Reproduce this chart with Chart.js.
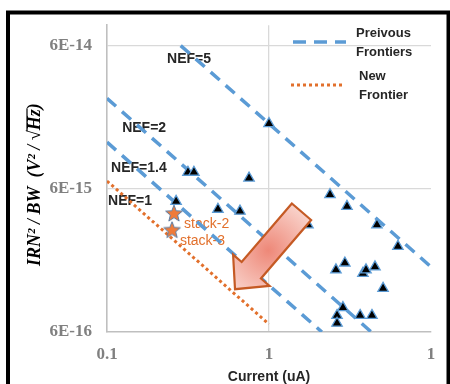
<!DOCTYPE html>
<html lang="en">
<head>
<meta charset="UTF-8">
<title>IRN vs Current</title>
<script src="https://cdn.jsdelivr.net/npm/chart.js"></script>
<style>
  body { margin: 0; background: #ffffff; }
  #wrap { width: 450px; height: 384px; }
</style>
</head>
<body>
<div id="wrap"><canvas id="chart" width="450" height="384"></canvas></div>
<script>
// measured designs (current in uA, IRN^2/BW)
const currents = [1, 0.316, 0.344, 0.753, 0.267, 0.484, 0.662, 1.74, 2.38, 3.03, 4.64, 6.25,
                  2.59, 2.94, 3.80, 3.97, 4.51, 5.06, 2.86, 2.63, 2.63, 3.65, 4.32];
const irnValues = [1.71e-14, 7.83e-15, 7.83e-15, 7.13e-15, 4.9e-15, 4.32e-15, 4.19e-15, 3.36e-15, 5.46e-15, 4.52e-15, 3.36e-15, 2.38e-15,
                   1.63e-15, 1.82e-15, 1.54e-15, 1.63e-15, 1.71e-15, 1.21e-15, 8.88e-16, 7.83e-16, 6.91e-16, 7.83e-16, 7.83e-16];

// this work
const stackNames = ['stack-2', 'stack-3'];
const stackCurrents = [0.259, 0.252];
const stackIrn = [4.06e-15, 3.11e-15];
const stackLabelX = [0.299, 0.282];
const stackLabelY = [3.41e-15, 2.58e-15];

// previous frontiers (NEF iso-lines), start and end points
const nefNames = ['NEF=5', 'NEF=2', 'NEF=1.4'];
const prevStartI = [0.285, 0.1, 0.1];
const prevStartIrn = [6e-14, 2.57e-14, 1.27e-14];
const prevEndI = [10, 4.28, 2.12];
const prevEndIrn = [1.71e-15, 6e-16, 6e-16];

// new frontier
const newI = [0.1, 1];
const newIrn = [6.8e-15, 6.8e-16];

// NEF label anchors
const nefLabelNames = ['NEF=5', 'NEF=2', 'NEF=1.4', 'NEF=1'];
const nefLabelX = [0.235, 0.124, 0.106, 0.1015];
const nefLabelY = [4.82e-14, 1.59e-14, 8.34e-15, 4.9e-15];

// axis ticks
const xTicks = [0.1, 1, 10];
const xTickLabels = ['0.1', '1', '1'];
const yTicks = [6e-16, 6e-15, 6e-14];
const yTickLabels = ['6E-16', '6E-15', '6E-14'];

// arrow (tail -> tip)
const arrowTail = [1.587, 4.15e-15];
const arrowTip = [0.617, 1.194e-15];

const BLUE = '#5b9bd5';
const ORANGE = '#e2702c';
const DARK = '#262626';

// star image for the stack points
function makeStar() {
    const c = document.createElement('canvas');
    c.width = 20; c.height = 20;
    const g = c.getContext('2d');
    g.beginPath();
    for (let i = 0; i < 10; i++) {
        const r = i % 2 === 0 ? 8.8 : 3.8;
        const a = -Math.PI / 2 + i * Math.PI / 5;
        const px = 10 + r * Math.cos(a), py = 10.8 + r * Math.sin(a);
        if (i === 0) g.moveTo(px, py); else g.lineTo(px, py);
    }
    g.closePath();
    g.fillStyle = '#ef7b3a';
    g.fill();
    g.strokeStyle = '#5a7ea6';
    g.lineWidth = 1;
    g.stroke();
    return c;
}

const datasets = [];
datasets.push({
    label: 'stacks',
    data: stackCurrents.map((x, i) => ({ x: x, y: stackIrn[i] })),
    pointStyle: makeStar(),
    showLine: false
});
datasets.push({
    label: 'prior',
    data: currents.map((x, i) => ({ x: x, y: irnValues[i] })),
    pointStyle: 'triangle',
    pointRadius: 6,
    backgroundColor: '#000000',
    borderColor: BLUE,
    borderWidth: 1.3,
    showLine: false
});
nefNames.forEach((n, i) => {
    datasets.push({
        label: n,
        data: [{ x: prevStartI[i], y: prevStartIrn[i] }, { x: prevEndI[i], y: prevEndIrn[i] }],
        showLine: true,
        borderColor: BLUE,
        borderWidth: 3.5,
        borderDash: [12, 8],
        pointRadius: 0
    });
});
datasets.push({
    label: 'NEF=1',
    data: newI.map((x, i) => ({ x: x, y: newIrn[i] })),
    showLine: true,
    borderColor: ORANGE,
    borderWidth: 3,
    borderDash: [3, 3],
    pointRadius: 0
});

const decor = {
    id: 'decor',
    beforeDraw(chart) {
        const ctx = chart.ctx;
        ctx.save();
        ctx.fillStyle = '#ffffff';
        ctx.fillRect(0, 0, chart.width, chart.height);
        ctx.restore();
    },
    beforeDatasetsDraw(chart) {
        const ctx = chart.ctx, xs = chart.scales.x, ys = chart.scales.y;
        ctx.save();
        ctx.font = 'bold 14px "Liberation Sans"';
        ctx.fillStyle = DARK;
        ctx.textBaseline = 'middle';
        nefLabelNames.forEach((t, i) => {
            ctx.fillText(t, xs.getPixelForValue(nefLabelX[i]), ys.getPixelForValue(nefLabelY[i]));
        });
        ctx.font = '14px "Liberation Sans"';
        ctx.fillStyle = ORANGE;
        stackNames.forEach((t, i) => {
            ctx.fillText(t, xs.getPixelForValue(stackLabelX[i]), ys.getPixelForValue(stackLabelY[i]));
        });
        ctx.restore();
    },
    afterDatasetsDraw(chart) {
        const ctx = chart.ctx, xs = chart.scales.x, ys = chart.scales.y;
        // block arrow
        const tx = xs.getPixelForValue(arrowTail[0]), ty = ys.getPixelForValue(arrowTail[1]);
        const px = xs.getPixelForValue(arrowTip[0]), py = ys.getPixelForValue(arrowTip[1]);
        const len = Math.hypot(px - tx, py - ty);
        const ux = (px - tx) / len, uy = (py - ty) / len;
        const nx = -uy, ny = ux;
        const sw = 12.7, hw = 24, hl = 25;
        const bx = px - ux * hl, by = py - uy * hl;
        const pts = [
            [tx + nx * sw, ty + ny * sw], [bx + nx * sw, by + ny * sw], [bx + nx * hw, by + ny * hw],
            [px, py],
            [bx - nx * hw, by - ny * hw], [bx - nx * sw, by - ny * sw], [tx - nx * sw, ty - ny * sw]
        ];
        ctx.save();
        const cx = (tx + px) / 2, cy = (ty + py) / 2;
        const grad = ctx.createRadialGradient(cx, cy, 0, cx, cy, 62);
        grad.addColorStop(0, '#ee8878');
        grad.addColorStop(1, '#fbe2dc');
        ctx.beginPath();
        pts.forEach((p, i) => { if (i === 0) ctx.moveTo(p[0], p[1]); else ctx.lineTo(p[0], p[1]); });
        ctx.closePath();
        ctx.fillStyle = grad;
        ctx.fill();
        ctx.strokeStyle = '#c55a24';
        ctx.lineWidth = 2.2;
        ctx.lineJoin = 'miter';
        ctx.stroke();
        ctx.restore();
    },
    afterDraw(chart) {
        const ctx = chart.ctx, area = chart.chartArea;
        ctx.save();
        // legend
        const lx = area.right - 138;
        ctx.lineWidth = 3.5;
        ctx.strokeStyle = BLUE;
        ctx.setLineDash([13, 8]);
        ctx.beginPath(); ctx.moveTo(lx, 42); ctx.lineTo(lx + 53, 42); ctx.stroke();
        ctx.lineWidth = 3;
        ctx.strokeStyle = ORANGE;
        ctx.setLineDash([3, 3]);
        ctx.beginPath(); ctx.moveTo(lx - 2, 85); ctx.lineTo(lx + 50, 85); ctx.stroke();
        ctx.setLineDash([]);
        ctx.font = 'bold 13px "Liberation Sans"';
        ctx.fillStyle = DARK;
        ctx.textBaseline = 'middle';
        ctx.fillText('Preivous', lx + 63, 33);
        ctx.fillText('Frontiers', lx + 63, 52);
        ctx.fillText('New', lx + 66, 76);
        ctx.fillText('Frontier', lx + 66, 95);

        // x axis title
        ctx.font = 'bold 14px "Liberation Sans"';
        ctx.textAlign = 'center';
        ctx.fillText('Current (uA)', (area.left + area.right) / 2, 377);

        // y axis title with overbar on Hz
        ctx.translate(35, (area.top + area.bottom) / 2 + 6);
        ctx.rotate(-Math.PI / 2);
        ctx.font = 'italic bold 18px "Liberation Serif"';
        ctx.fillStyle = '#000000';
        ctx.textAlign = 'left';
        const pre = 'IRN\u00b2 / BW  (V\u00b2 / \u221a';
        const full = pre + 'Hz)';
        const w = ctx.measureText(full).width;
        const x0 = -w / 2;
        ctx.fillText(full, x0, 0);
        const hzStart = x0 + ctx.measureText(pre).width;
        const hzW = ctx.measureText('Hz').width;
        ctx.lineWidth = 1.2;
        ctx.strokeStyle = '#000000';
        ctx.beginPath(); ctx.moveTo(hzStart - 1, -8); ctx.lineTo(hzStart + hzW + 1, -8); ctx.stroke();
        ctx.restore();

        // outer frame
        ctx.save();
        ctx.lineWidth = 4;
        ctx.strokeStyle = '#000000';
        ctx.strokeRect(8, 12.5, 440.5, 400);
        ctx.restore();
    }
};

new Chart(document.getElementById('chart'), {
    type: 'scatter',
    data: { datasets: datasets },
    options: {
        responsive: false,
        animation: false,
        layout: { padding: { left: 0, top: 17, right: 19, bottom: 0 } },
        plugins: { legend: { display: false }, tooltip: { enabled: false } },
        scales: {
            x: {
                type: 'logarithmic',
                min: 0.1,
                max: 10,
                afterBuildTicks: s => { s.ticks = xTicks.map(v => ({ value: v })); },
                afterFit: s => { s.height = 52; },
                ticks: {
                    autoSkip: false,
                    maxRotation: 0,
                    padding: 12,
                    color: '#808080',
                    font: { family: 'Liberation Serif', weight: 'bold', size: 17 },
                    callback: (v) => xTickLabels[xTicks.indexOf(v)]
                },
                grid: {
                    drawTicks: false,
                    color: c => (c.tick && c.tick.value === 1) ? '#d9d9d9' : 'rgba(0,0,0,0)',
                    lineWidth: 1.3
                },
                border: { color: '#bfbfbf', width: 1.6 }
            },
            y: {
                type: 'logarithmic',
                min: 6e-16,
                max: 8.33e-14,
                afterBuildTicks: s => { s.ticks = yTicks.map(v => ({ value: v })); },
                afterFit: s => { s.width = 107; },
                ticks: {
                    autoSkip: false,
                    padding: 15,
                    color: '#808080',
                    font: { family: 'Liberation Serif', weight: 'bold', size: 17 },
                    callback: (v) => yTickLabels[yTicks.indexOf(v)]
                },
                grid: {
                    drawTicks: false,
                    color: c => (c.tick && c.tick.value > 7e-16) ? '#d9d9d9' : 'rgba(0,0,0,0)',
                    lineWidth: 1.3
                },
                border: { color: '#bfbfbf', width: 1.6 }
            }
        }
    },
    plugins: [decor]
});
</script>
</body>
</html>
